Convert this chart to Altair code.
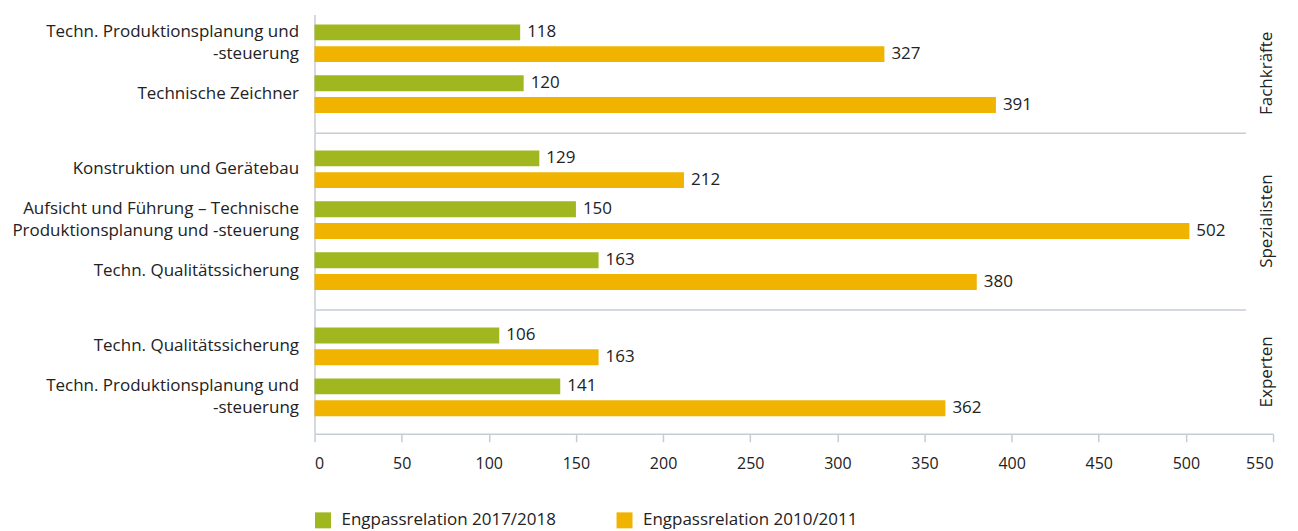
import altair as alt
import pandas as pd

groups = ["Fachkräfte", "Fachkräfte", "Spezialisten", "Spezialisten", "Spezialisten", "Experten", "Experten"]
categories = [
    "Techn. Produktionsplanung und|-steuerung",
    "Technische Zeichner",
    "Konstruktion und Gerätebau",
    "Aufsicht und Führung – Technische|Produktionsplanung und -steuerung",
    "Techn. Qualitätssicherung",
    "Techn. Qualitätssicherung",
    "Techn. Produktionsplanung und|-steuerung",
]
values_2017 = [118, 120, 129, 150, 163, 106, 141]
values_2010 = [327, 391, 212, 502, 380, 163, 362]
series = ["Engpassrelation 2017/2018", "Engpassrelation 2010/2011"]
group_order = ["Fachkräfte", "Spezialisten", "Experten"]
x_ticks = list(range(0, 551, 50))

rows = []
for g, c, v1, v2 in zip(groups, categories, values_2017, values_2010):
    rows.append({"group": g, "category": c, "series": series[0], "value": v1})
    rows.append({"group": g, "category": c, "series": series[1], "value": v2})
df = pd.DataFrame(rows)

FONT = "Open Sans"
GREEN = "#a0b720"
ORANGE = "#efb300"
GRAY = "#c5cdd3"
TXT = "#222222"
W = 960

# panel layout: (height, paddingOuter, align)
panel_layout = {
    "Fachkräfte": (118, 0.227, 0.3),
    "Spezialisten": (176, 0.295, 0.47),
    "Experten": (124, 0.286, 0.5),
}


def panel(g, last, first):
    h, po, al = panel_layout[g]
    sub = df[df["group"] == g]
    base = alt.Chart(sub)
    y_enc = alt.Y(
        "category:N",
        sort=None,
        title=None,
        scale=alt.Scale(paddingInner=0.14, paddingOuter=po, align=al),
        axis=alt.Axis(
            labelExpr="split(datum.label, '|')",
            labelOffset={"condition": {"test": "indexof(datum.label, '|') >= 0", "value": -11}, "value": 0},
            ticks=False,
            domainColor=GRAY,
            domainWidth=1.5,
            labelPadding=16,
            labelFontSize=17,
            labelColor=TXT,
            labelFont=FONT,
            labelLineHeight=22,
            labelLimit=400,
            minExtent=307,
            maxExtent=307,
        ),
    )
    yoff = alt.YOffset("series:N", sort=series, scale=alt.Scale(paddingInner=0.27, paddingOuter=0.14))
    if last:
        x_axis = alt.Axis(
            values=x_ticks,
            grid=False,
            domainColor=GRAY,
            domainWidth=1.5,
            tickColor=GRAY,
            tickWidth=1.5,
            tickSize=8,
            labelPadding=14,
            labelFontSize=16,
            labelColor=TXT,
            labelFont=FONT,
        )
    else:
        x_axis = None
    x_enc = alt.X("value:Q", title=None, scale=alt.Scale(domain=[0, 550], nice=False), axis=x_axis)

    bars = base.mark_bar().encode(
        x=x_enc,
        y=y_enc,
        yOffset=yoff,
        color=alt.Color(
            "series:N",
            sort=series,
            scale=alt.Scale(domain=series, range=[GREEN, ORANGE]),
            legend=alt.Legend(
                title=None,
                orient="bottom",
                direction="horizontal",
                symbolType="square",
                symbolSize=256,
                symbolStrokeWidth=0,
                labelFontSize=17,
                labelColor=TXT,
                labelFont=FONT,
                labelLimit=400,
                columnPadding=60,
                labelOffset=10,
                offset=40,
            ),
        ),
    )
    labels = base.mark_text(align="left", baseline="middle", dx=7, fontSize=17, color=TXT, font=FONT).encode(
        x=x_enc, y=y_enc, yOffset=yoff, text="value:Q"
    )
    gdf = pd.DataFrame({"group": [g]})
    glabel = alt.Chart(gdf).mark_text(
        angle=270, align="center", baseline="middle", fontSize=17, color=TXT, font=FONT
    ).encode(text="group:N", x=alt.value(954), y=alt.value(h / 2))
    layers = [bars, labels, glabel]
    if not first:
        sep = alt.Chart(gdf).mark_rule(color=GRAY, strokeWidth=1.5).encode(
            y=alt.value(0), x=alt.value(0), x2=alt.value(933)
        )
        layers.append(sep)
    return alt.layer(*layers).properties(width=W, height=h)


panels = [panel(g, i == len(group_order) - 1, i == 0) for i, g in enumerate(group_order)]

chart = (
    alt.vconcat(*panels, spacing=0)
    .resolve_scale(x="shared", color="shared", y="independent")
    .properties(padding={"top": 6, "left": 0, "right": 15, "bottom": 0})
    .configure(font=FONT)
    .configure_view(strokeWidth=0)
)

chart.save("out.html", embed_options={"renderer": "svg", "actions": False})
